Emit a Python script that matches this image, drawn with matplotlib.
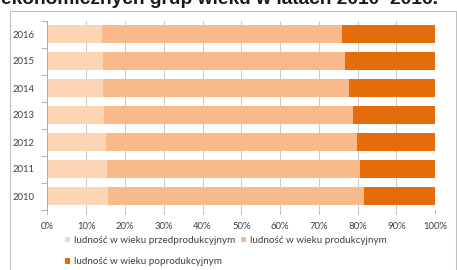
import matplotlib
matplotlib.use("Agg")
import matplotlib.pyplot as plt
from matplotlib.patches import Rectangle

years = ["2010", "2011", "2012", "2013", "2014", "2015", "2016"]
przed = [15.6, 15.3, 15.1, 14.6, 14.4, 14.3, 14.1]
prod = [66.1, 65.4, 64.7, 64.2, 63.4, 62.5, 61.9]
po = [18.3, 19.3, 20.2, 21.2, 22.2, 23.2, 24.0]
labels = ["ludność w wieku przedprodukcyjnym",
          "ludność w wieku produkcyjnym",
          "ludność w wieku poprodukcyjnym"]
colors = ["#FCD5B5", "#F8BA8A", "#E46C0A"]

plt.rcParams['font.family'] = ['Lato', 'DejaVu Sans']

fig = plt.figure(figsize=(4.57, 2.7), dpi=100)
fig.patch.set_facecolor("white")

# ramka wykresu
fig.patches.append(Rectangle((10 / 457, -0.1), 446 / 457, 1.1 - 10.5 / 270,
                             transform=fig.transFigure, fill=False,
                             edgecolor="#BFBFBF", linewidth=0.8))

# ucięty tytuł nad wykresem
fig.text(438 / 457, 1 - 4 / 270, "ekonomicznych grup wieku w latach 2010–2016.",
         ha="right", va="baseline", fontsize=13.8, fontweight="bold",
         color="#1a1a1a", family="Liberation Sans")

ax = fig.add_axes([47.3 / 457, 1 - 209.5 / 270, 388 / 457, 189 / 270])
ypos = list(range(len(years)))
h = 0.67
left = [0] * len(years)
bars = []
for vals, c, lab in zip([przed, prod, po], colors, labels):
    b = ax.barh(ypos, vals, left=left, height=h, color=c, label=lab, zorder=2)
    bars.append(b)
    left = [l + v for l, v in zip(left, vals)]

ax.set_xlim(0, 100)
ax.set_ylim(-0.5, len(years) - 0.5)
ax.set_xticks(range(0, 101, 10))
ax.set_xticklabels([f"{t}%" for t in range(0, 101, 10)])
ax.set_yticks(ypos)
ax.set_yticklabels(years)
ax.set_yticks([i - 0.5 for i in range(len(years) + 1)], minor=True)
ax.tick_params(axis="y", which="major", length=0, pad=9, labelsize=6.8, labelcolor="#404040")
ax.tick_params(axis="y", which="minor", length=4, color="#A6A6A6", width=0.6)
ax.tick_params(axis="x", length=3, color="#A6A6A6", width=0.6, pad=6,
               labelsize=6.8, labelcolor="#404040")
ax.grid(axis="x", color="#BFBFBF", linewidth=0.6, zorder=0)
for s in ["top", "right", "bottom"]:
    ax.spines[s].set_visible(False)
ax.spines["left"].set_color("#A6A6A6")
ax.spines["left"].set_linewidth(0.6)

leg = fig.legend([bars[0], bars[2], bars[1]], [labels[0], labels[2], labels[1]],
                 ncol=2, loc="upper left", bbox_to_anchor=(65 / 457, 1 - 236 / 270),
                 frameon=False, fontsize=7.1, handlelength=0.55, handleheight=0.55,
                 handletextpad=0.4, columnspacing=0.5, labelspacing=1.25,
                 borderaxespad=0, borderpad=0)
for t in leg.get_texts():
    t.set_color("#404040")

fig.savefig("out.png", dpi=100)
